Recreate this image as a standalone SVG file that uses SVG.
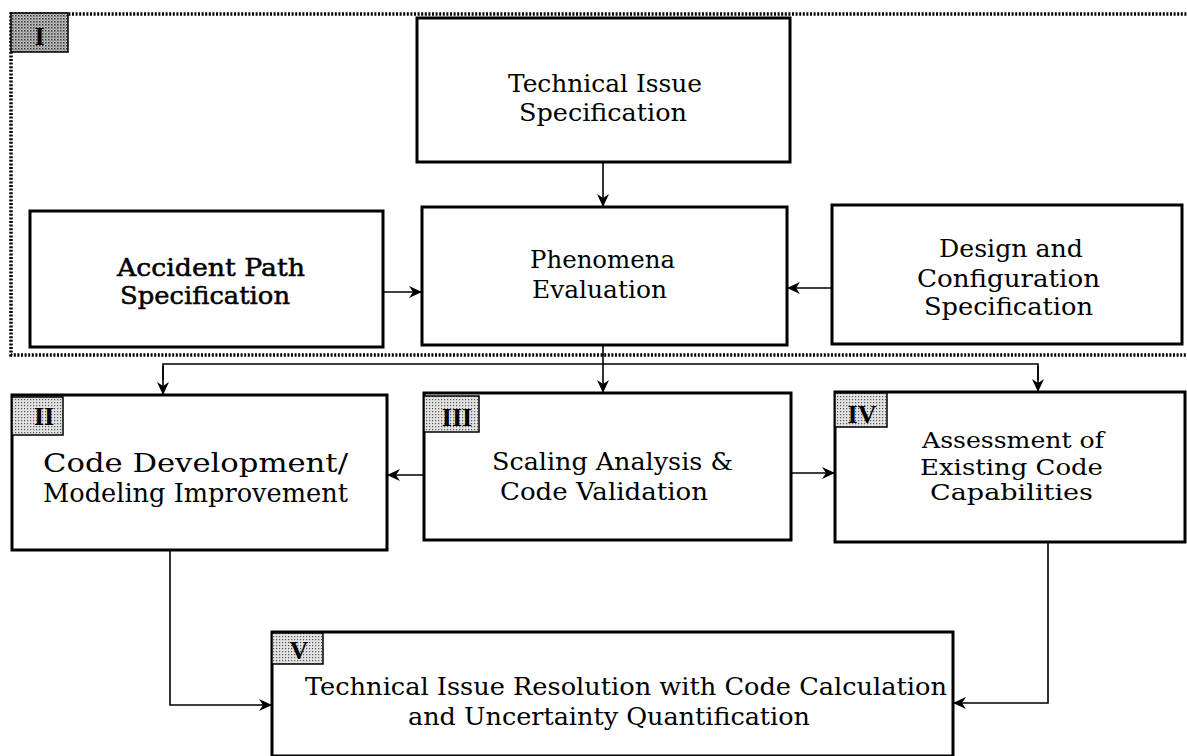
<svg xmlns="http://www.w3.org/2000/svg" width="1187" height="756" viewBox="0 0 1187 756">
<style>
.box{fill:#fff;stroke:#000;stroke-width:3}
.lab{stroke:#000;stroke-width:1.5}
.t{font-family:"DejaVu Serif","Liberation Serif",serif;font-size:24px;fill:#000}
.s{font-size:22px}
.b{font-size:26px}
.lt{font-family:"Liberation Serif","Times New Roman",serif;font-size:26px;font-weight:bold;fill:#000}
.c{fill:none;stroke:#000;stroke-width:1.6}
.frame{fill:none;stroke:#000;stroke-width:3.5;stroke-dasharray:2 1.6}
</style>
<defs>
<pattern id="stip" width="3" height="3" patternUnits="userSpaceOnUse">
<rect width="3" height="3" fill="#e2e2e2"/>
<rect x="0" y="0" width="1.2" height="1.2" fill="#555"/>
</pattern>
<pattern id="stipd" width="3" height="3" patternUnits="userSpaceOnUse">
<rect width="3" height="3" fill="#c4c4c4"/>
<rect x="0" y="0" width="1.5" height="1.5" fill="#333"/>
<rect x="1.5" y="1.5" width="1" height="1" fill="#555"/>
</pattern>
<marker id="ah" markerUnits="userSpaceOnUse" markerWidth="14" markerHeight="12" refX="13" refY="6" orient="auto">
<path d="M0,0 L13,6 L0,12 L4,6 Z" fill="#000"/>
</marker>
</defs>

<g id="frame-I">
<path class="frame" d="M1190,14 L11,14 L11,355 L1190,355"/>
<rect class="lab" x="11" y="13" width="57" height="39" fill="url(#stipd)"/>
<text class="lt" x="39.5" y="45" text-anchor="middle">I</text>
</g>

<g id="connectors">
<line class="c" x1="603" y1="162" x2="603" y2="207" marker-end="url(#ah)"/>
<line class="c" x1="383" y1="292" x2="422" y2="292" marker-end="url(#ah)"/>
<line class="c" x1="832" y1="288" x2="787" y2="288" marker-end="url(#ah)"/>
<line class="c" x1="603" y1="345" x2="603" y2="393" marker-end="url(#ah)"/>
<polyline class="c" points="163,380 163,364 1038,364 1038,380"/>
<line class="c" x1="163" y1="366" x2="163" y2="395" marker-end="url(#ah)"/>
<line class="c" x1="1038" y1="366" x2="1038" y2="392" marker-end="url(#ah)"/>
<line class="c" x1="424" y1="475" x2="387" y2="475" marker-end="url(#ah)"/>
<line class="c" x1="791" y1="473" x2="835" y2="473" marker-end="url(#ah)"/>
<polyline class="c" points="170,550 170,705 272,705" marker-end="url(#ah)"/>
<polyline class="c" points="1048,542 1048,703 953,703" marker-end="url(#ah)"/>
</g>

<g id="tech-issue">
<rect class="box" x="417" y="18" width="373" height="144"/>
<text class="t" x="508" y="92" textLength="194" lengthAdjust="spacingAndGlyphs">Technical Issue</text>
<text class="t" x="519" y="121" textLength="168" lengthAdjust="spacingAndGlyphs">Specification</text>
</g>

<g id="accident-path">
<rect class="box" x="30" y="211" width="353" height="136"/>
<text class="t" x="117" y="276" textLength="188" lengthAdjust="spacingAndGlyphs" style="stroke:#000;stroke-width:0.5">Accident Path</text>
<text class="t" x="120" y="304" textLength="170" lengthAdjust="spacingAndGlyphs" style="stroke:#000;stroke-width:0.5">Specification</text>
</g>

<g id="phenomena">
<rect class="box" x="422" y="207" width="365" height="138"/>
<text class="t" x="530" y="268" textLength="145" lengthAdjust="spacingAndGlyphs">Phenomena</text>
<text class="t" x="532" y="298" textLength="135" lengthAdjust="spacingAndGlyphs">Evaluation</text>
</g>

<g id="design-config">
<rect class="box" x="832" y="205" width="350" height="139"/>
<text class="t" x="939" y="257" textLength="144" lengthAdjust="spacingAndGlyphs">Design and</text>
<text class="t" x="917" y="287" textLength="183" lengthAdjust="spacingAndGlyphs">Configuration</text>
<text class="t" x="924" y="315" textLength="169" lengthAdjust="spacingAndGlyphs">Specification</text>
</g>

<g id="code-dev">
<rect class="box" x="12" y="395" width="375" height="155"/>
<rect class="lab" x="12" y="397" width="51" height="38" fill="url(#stip)"/>
<text class="lt" x="44" y="425" text-anchor="middle">II</text>
<text class="t b" x="43" y="472" textLength="305" lengthAdjust="spacingAndGlyphs">Code Development/</text>
<text class="t b" x="43" y="502" textLength="305" lengthAdjust="spacingAndGlyphs">Modeling Improvement</text>
</g>

<g id="scaling">
<rect class="box" x="424" y="393" width="367" height="147"/>
<rect class="lab" x="424" y="396" width="55" height="36" fill="url(#stip)"/>
<text class="lt" x="457" y="426" text-anchor="middle">III</text>
<text class="t" x="492" y="470" textLength="241" lengthAdjust="spacingAndGlyphs">Scaling Analysis &amp;</text>
<text class="t" x="500" y="500" textLength="208" lengthAdjust="spacingAndGlyphs">Code Validation</text>
</g>

<g id="assessment">
<rect class="box" x="835" y="392" width="350" height="150"/>
<rect class="lab" x="835" y="393" width="52" height="34" fill="url(#stip)"/>
<text class="lt" x="862" y="423" text-anchor="middle">IV</text>
<text class="t s" x="922" y="448" textLength="182" lengthAdjust="spacingAndGlyphs">Assessment of</text>
<text class="t s" x="920" y="475" textLength="183" lengthAdjust="spacingAndGlyphs">Existing Code</text>
<text class="t s" x="930" y="500" textLength="163" lengthAdjust="spacingAndGlyphs">Capabilities</text>
</g>

<g id="resolution">
<rect class="box" x="272" y="632" width="681" height="124"/>
<rect class="lab" x="272" y="633" width="51" height="31" fill="url(#stip)"/>
<text class="lt" x="299" y="659" text-anchor="middle">V</text>
<text class="t" x="305" y="695" textLength="642" lengthAdjust="spacingAndGlyphs">Technical Issue Resolution with Code Calculation</text>
<text class="t" x="408" y="725" textLength="402" lengthAdjust="spacingAndGlyphs">and Uncertainty Quantification</text>
</g>
</svg>
